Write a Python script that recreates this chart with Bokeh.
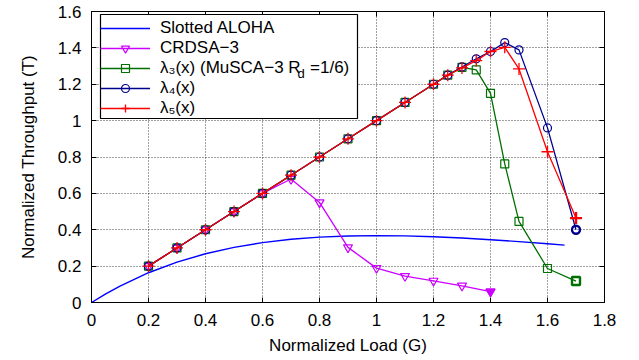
from bokeh.plotting import figure
from bokeh.models import (Legend, LegendItem, FixedTicker, LinearAxis, Label, Range1d,
                          CustomJSTickFormatter, BoxAnnotation)
from bokeh.embed import file_html
from bokeh.resources import INLINE

# ---------------- data ----------------
aloha_x = [0, 0.05, 0.1, 0.2, 0.3, 0.4, 0.5, 0.6, 0.7, 0.8, 0.9, 1.0, 1.1, 1.2, 1.3, 1.4, 1.5, 1.6, 1.66]
aloha_y = [0, 0.0476, 0.0905, 0.1637, 0.2222, 0.2681, 0.3033, 0.3293, 0.3476, 0.3595, 0.3659,
           0.3679, 0.3662, 0.3614, 0.3543, 0.3452, 0.3347, 0.3230, 0.3152]

crdsa_x = [0.2, 0.3, 0.4, 0.5, 0.6, 0.7, 0.8, 0.9, 1.0, 1.1, 1.2, 1.3, 1.4]
crdsa_y = [0.2, 0.3, 0.4, 0.5, 0.6, 0.679, 0.55, 0.303, 0.189, 0.145, 0.119, 0.092, 0.06]

lam_x = [0.2, 0.3, 0.4, 0.5, 0.6, 0.7, 0.8, 0.9, 1.0, 1.1, 1.2, 1.25, 1.3, 1.35, 1.4, 1.45, 1.5, 1.6, 1.7]
lam3_y = [0.2, 0.3, 0.4, 0.5, 0.6, 0.7, 0.8, 0.9, 1.0, 1.1, 1.2, 1.25, 1.293, 1.279, 1.15, 0.762, 0.446, 0.187, 0.118]
lam4_y = [0.2, 0.3, 0.4, 0.5, 0.6, 0.7, 0.8, 0.9, 1.0, 1.1, 1.2, 1.25, 1.295, 1.34, 1.38, 1.429, 1.389, 0.96, 0.40]
lam5_y = [0.2, 0.3, 0.4, 0.5, 0.6, 0.7, 0.8, 0.9, 1.0, 1.1, 1.2, 1.25, 1.29, 1.33, 1.38, 1.403, 1.284, 0.829, 0.464]

x_ticks = [0, 0.2, 0.4, 0.6, 0.8, 1.0, 1.2, 1.4, 1.6, 1.8]
x_tick_labels = ["0", "0.2", "0.4", "0.6", "0.8", "1", "1.2", "1.4", "1.6", "1.8"]
y_ticks = [0, 0.2, 0.4, 0.6, 0.8, 1.0, 1.2, 1.4, 1.6]
y_tick_labels = ["0", "0.2", "0.4", "0.6", "0.8", "1", "1.2", "1.4", "1.6"]

names = ["Slotted ALOHA", "CRDSA\u22123", "\u03bb\u2083(x) (MuSCA\u22123 R  =1/6)",
         "\u03bb\u2084(x)", "\u03bb\u2085(x)"]

# ---------------- figure ----------------
FONT = "Liberation Sans"
FS = "17px"

p = figure(frame_width=513, frame_height=291, output_backend="svg", toolbar_location=None,
           x_range=Range1d(0, 1.8), y_range=Range1d(0, 1.6),
           min_border_left=91, min_border_top=11, min_border_right=25, min_border_bottom=50)
p.outline_line_color = "black"
p.outline_line_width = 1
p.background_fill_color = "white"
p.border_fill_color = "white"

for ax, ticks, labels in ((p.xaxis[0], x_ticks, x_tick_labels), (p.yaxis[0], y_ticks, y_tick_labels)):
    ax.ticker = FixedTicker(ticks=ticks)
    ax.major_label_overrides = {t: l for t, l in zip(ticks, labels)}
    ax.major_tick_in = 5
    ax.major_tick_out = 0
    ax.minor_tick_in = 0
    ax.minor_tick_out = 0
    ax.axis_line_color = "black"
    ax.major_tick_line_color = "black"
    ax.major_label_text_font = FONT
    ax.major_label_text_font_size = FS
    ax.major_label_text_color = "black"
    ax.axis_label_text_font = FONT
    ax.axis_label_text_font_size = FS
    ax.axis_label_text_font_style = "normal"
    ax.axis_label_text_color = "black"

p.xaxis.axis_label = "Normalized Load (G)"
p.yaxis.axis_label = "Normalized Throughput (T)"
p.xaxis.major_label_standoff = 11
p.yaxis.major_label_standoff = 10
p.xaxis.axis_label_standoff = 7
p.yaxis.axis_label_standoff = 17

# box ticks on top / right (no labels)
for loc, ticks in (("above", x_ticks), ("right", y_ticks)):
    ax = LinearAxis(ticker=FixedTicker(ticks=ticks),
                    formatter=CustomJSTickFormatter(code="return ''"),
                    major_tick_in=5, major_tick_out=0, minor_tick_in=0, minor_tick_out=0,
                    major_label_standoff=0, axis_line_color="black", major_tick_line_color="black")
    p.add_layout(ax, loc)

for g, ticks in ((p.xgrid[0], x_ticks), (p.ygrid[0], y_ticks)):
    g.ticker = FixedTicker(ticks=ticks)
    g.grid_line_color = "black"
    g.grid_line_alpha = 0.75
    g.grid_line_dash = "1 2"
    g.grid_line_width = 1

# ---------------- series ----------------
c_aloha = "#0000ff"
c_crdsa = "#cc00ff"
c_l3 = "#007000"
c_l4 = "#000090"
c_l5 = "#ff0000"

r_aloha = p.line(aloha_x, aloha_y, line_color=c_aloha, line_width=1.4)

r_c_l = p.line(crdsa_x, crdsa_y, line_color=c_crdsa, line_width=1.3)
r_c_m = p.scatter(crdsa_x, crdsa_y, marker="inverted_triangle", size=9, line_color=c_crdsa,
                  fill_color=None, line_width=1.2)
p.scatter(crdsa_x[-1:], crdsa_y[-1:], marker="inverted_triangle", size=9, line_color=c_crdsa,
          fill_color=c_crdsa, line_width=1.2)

r_3_l = p.line(lam_x, lam3_y, line_color=c_l3, line_width=1.3)
r_3_m = p.scatter(lam_x, lam3_y, marker="square", size=8, line_color=c_l3, fill_color=None, line_width=1.2)
p.scatter(lam_x[-1:], lam3_y[-1:], marker="square", size=8, line_color=c_l3, fill_color=None, line_width=2.4)

r_4_l = p.line(lam_x, lam4_y, line_color=c_l4, line_width=1.3)
r_4_m = p.scatter(lam_x, lam4_y, marker="circle", size=8, line_color=c_l4, fill_color=None, line_width=1.2)
p.scatter(lam_x[-1:], lam4_y[-1:], marker="circle", size=8, line_color=c_l4, fill_color=None, line_width=2.4)

r_5_l = p.line(lam_x, lam5_y, line_color=c_l5, line_width=1.3)
r_5_m = p.scatter(lam_x, lam5_y, marker="cross", size=12, line_color=c_l5, line_width=1.3)
p.scatter(lam_x[-1:], lam5_y[-1:], marker="cross", size=12, line_color=c_l5, line_width=2.4)

# legend frame (white box with black border), drawn beneath the legend entries
legend_box = BoxAnnotation(left=9, right=266, bottom=184, top=288,
                           left_units="screen", right_units="screen",
                           bottom_units="screen", top_units="screen",
                           fill_color="white", fill_alpha=1,
                           line_color="black", line_width=1.2, line_alpha=1,
                           level="annotation", editable=False)
p.add_layout(legend_box)

# subscript "d" of R_d in the legend
sub_d = Label(x=206, y=229, x_units="screen", y_units="screen", text="d",
              text_font=FONT, text_font_size="13px", text_color="black",
              text_align="left", text_baseline="alphabetic")
p.add_layout(sub_d)

items = [
    LegendItem(label=names[0], renderers=[r_aloha]),
    LegendItem(label=names[1], renderers=[r_c_l, r_c_m]),
    LegendItem(label=names[2], renderers=[r_3_l, r_3_m]),
    LegendItem(label=names[3], renderers=[r_4_l, r_4_m]),
    LegendItem(label=names[4], renderers=[r_5_l, r_5_m]),
]
legend = Legend(items=items, location=(9, 184), orientation="vertical",
                label_text_font=FONT, label_text_font_size=FS, label_text_color="black",
                glyph_width=50, glyph_height=20, label_height=20, label_standoff=10,
                spacing=0, padding=2, margin=0,
                border_line_color=None, border_line_alpha=0,
                background_fill_color=None, background_fill_alpha=0)
p.add_layout(legend, "center")

open("out.html", "w").write(file_html(p, INLINE))
